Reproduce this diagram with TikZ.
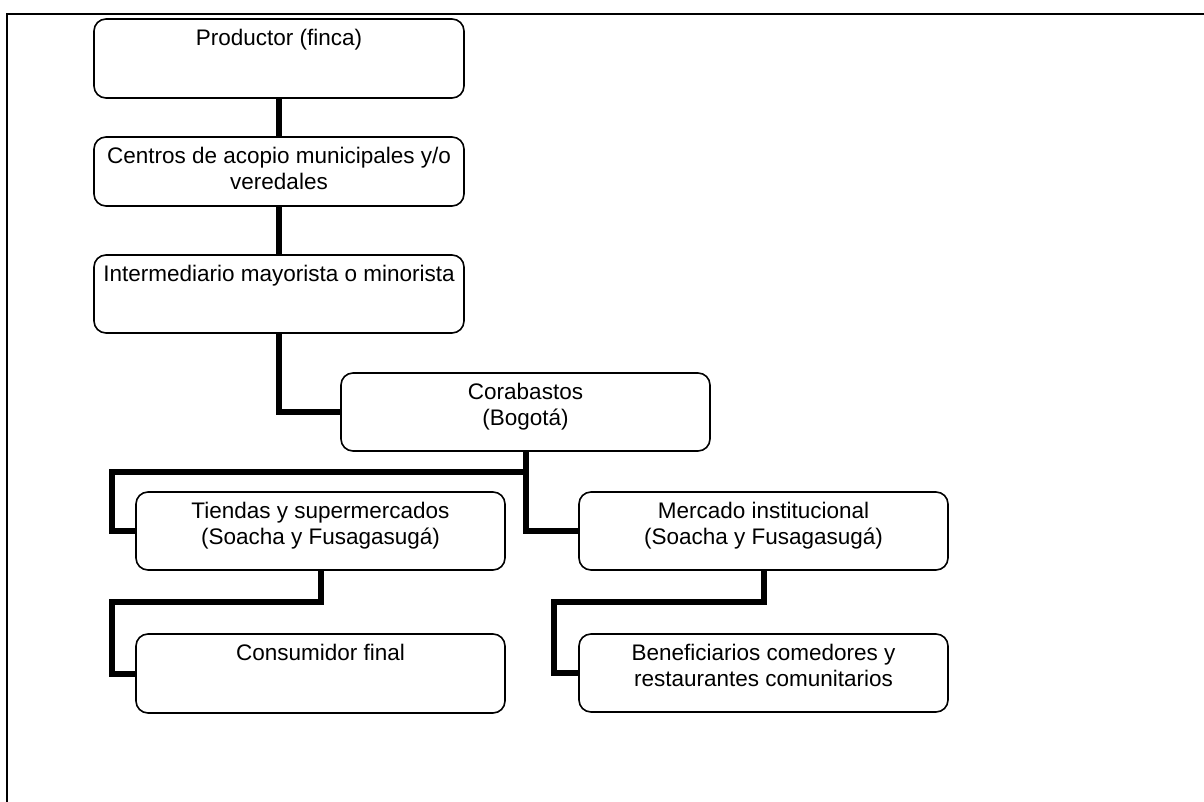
\documentclass[tikz,border=0pt]{standalone}
\usepackage{fontspec}
\setmainfont{Liberation Sans}
\usetikzlibrary{positioning}
\begin{document}
\begin{tikzpicture}[x=0.5pt, y=-0.5pt,
    caja/.style={draw, line width=0.8pt, rounded corners=6pt, anchor=north west,
        inner sep=0pt, outer sep=0pt, minimum width=184.5pt, minimum height=39pt},
    texto/.style={font=\fontsize{11.25}{13}\selectfont, align=center, inner sep=0pt},
    enlace/.style={line width=3pt}]
    \useasboundingbox (0,0) rectangle (1204,802);
    % marco
    \draw[line width=1pt] (7,802) -- (7,14) -- (1204,14);

    % cadena principal
    \node[caja, minimum width=185pt, minimum height=39.5pt] (prod) at (94,19) {};
    \node[texto, below=4.8pt of prod.north] (prodtxt) {Productor (finca)};
    \node[caja, minimum width=185pt, minimum height=34.5pt] (cent) at (94,137) {};
    \node[texto, below=4.8pt of cent.north] (centtxt) {Centros de acopio municipales y/o\\veredales};
    \node[caja, minimum width=185pt] (inter) at (94,255) {};
    \node[texto, below=4.8pt of inter.north] (intertxt) {Intermediario mayorista o minorista};
    \node[caja] (cora) at (341,373) {};
    \node[texto, below=4.8pt of cora.north] (coratxt) {Corabastos\\(Bogotá)};

    % ramas
    \node[caja] (tiend) at (136,492) {};
    \node[texto, below=4.8pt of tiend.north] (tiendtxt) {Tiendas y supermercados\\(Soacha y Fusagasugá)};
    \node[caja] (merc) at (579,492) {};
    \node[texto, below=4.8pt of merc.north] (merctxt) {Mercado institucional\\(Soacha y Fusagasugá)};
    \node[caja, minimum height=39.5pt] (cons) at (136,634) {};
    \node[texto, below=4.8pt of cons.north] (constxt) {Consumidor final};
    \node[caja] (benef) at (579,634) {};
    \node[texto, below=4.8pt of benef.north] (beneftxt) {Beneficiarios comedores y\\restaurantes comunitarios};

    % enlaces
    \draw[enlace] (prod.south) -- (cent.north);
    \draw[enlace] (cent.south) -- (inter.north);
    \draw[enlace] (inter.south) |- (cora.west);
    \draw[enlace] (cora.south) |- (merc.west);
    \draw[enlace] (cora.south) -- ++(0,21) -| ([xshift=-12pt]tiend.west) -- (tiend.west);
    \draw[enlace] (tiend.south) -- ++(0,32) -| ([xshift=-12pt]cons.west) -- (cons.west);
    \draw[enlace] (merc.south) -- ++(0,32) -| ([xshift=-12.5pt]benef.west) -- (benef.west);
\end{tikzpicture}
\end{document}
